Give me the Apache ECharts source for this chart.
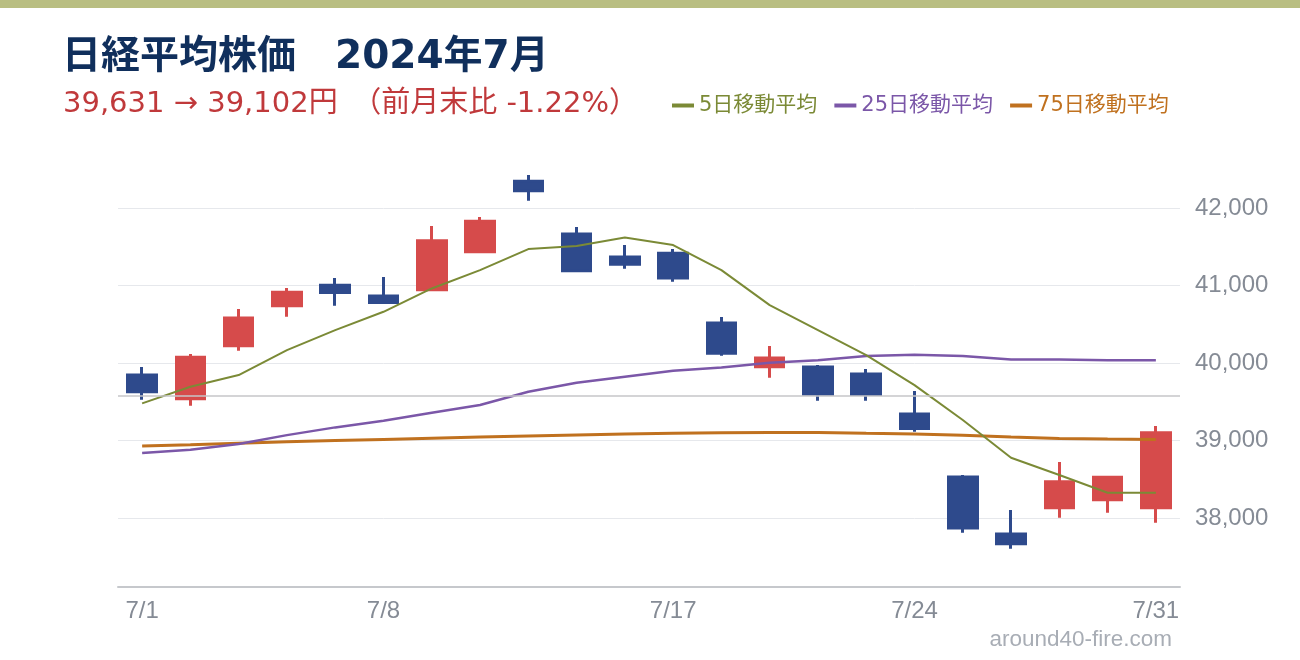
<!DOCTYPE html>
<html><head><meta charset="utf-8">
<script src="https://cdn.jsdelivr.net/npm/echarts@6/dist/echarts.min.js"></script>
<style>html,body{margin:0;padding:0;background:#fff}#c{width:1300px;height:660px}</style>
</head><body><div id="c"></div>
<script>
const dates = ['7/1','7/2','7/3','7/4','7/5','7/8','7/9','7/10','7/11','7/12','7/16','7/17','7/18','7/19','7/22','7/23','7/24','7/25','7/26','7/29','7/30','7/31'];
const opens  = [39845,39539,40223,40739,41006,40865,40946,41436,42348,41665,41368,41419,40516,39952,39948,39858,39342,38529,37794,38133,38236,38133];
const closes = [39631,40075,40581,40914,40912,40781,41580,41832,42224,41191,41275,41098,40126,40064,39599,39594,39155,37870,37667,38469,38526,39102];
const lows   = [39526,39449,40159,40597,40739,40770,40933,41423,42094,41178,41217,41049,40094,39810,39514,39514,39114,37810,37604,38004,38068,37939];
const highs  = [39948,40116,40697,40968,41097,41110,41768,41884,42427,41755,41523,41471,40594,40219,39974,39923,39639,38555,38103,38723,38529,39187];
const ma5  = [39480,39694,39845,40168,40426,40662,40963,41200,41471,41510,41622,41523,41200,40748,40426,40103,39716,39265,38778,38555,38327,38327];
const ma25 = [38839,38880,38955,39070,39170,39255,39360,39458,39630,39746,39823,39901,39944,40004,40035,40090,40107,40090,40047,40047,40035,40035];
const ma75 = [38929,38945,38965,38985,39000,39015,39030,39045,39060,39072,39085,39095,39100,39103,39104,39093,39084,39067,39045,39028,39019,39015];
const prevMonthEnd = 39583;
const yTicks = [38000,39000,40000,41000,42000];
const xLabelIdx = [0,5,11,16,21];

const C_UP = '#d64b4b', C_DN = '#2e4a8c';
const C5 = '#7b8a36', C25 = '#7b57a8', C75 = '#c0711f';
const AX = '#858b95';
const F_TXT = "'DejaVu Sans', 'Noto Sans CJK JP', sans-serif";
const F_AX = "'Liberation Sans', Arial, sans-serif";

const candle = dates.map((d,i)=>[opens[i], closes[i], lows[i], highs[i]]);
const chart = echarts.init(document.getElementById('c'), null, {renderer:'canvas'});
chart.setOption({
  animation:false,
  backgroundColor:'#fff',
  graphic:[{type:'rect', left:0, top:0, shape:{width:1300, height:8}, style:{fill:'#b9be82'}}],
  title:[
    {text:'日経平均株価　2024年7月', left:57, top:33,
     textStyle:{fontFamily:F_TXT, fontSize:39, fontWeight:'bold', color:'#102f5c'}},
    {text:'39,631 → 39,102円　（前月末比 -1.22%）', left:58, top:85,
     textStyle:{fontFamily:F_TXT, fontSize:29, fontWeight:'normal', color:'#c0393b'}},
    {text:'around40-fire.com', right:123, top:623,
     textStyle:{fontFamily:F_AX, fontSize:22.5, fontWeight:'normal', color:'#a8adb5'}}
  ],
  legend:{
    left:667, top:90, icon:'rect', itemWidth:22, itemHeight:4, itemGap:17,
    textStyle:{fontFamily:F_TXT, fontSize:21},
    data:[{name:'5日移動平均', textStyle:{color:C5}},{name:'25日移動平均', textStyle:{color:C25}},{name:'75日移動平均', textStyle:{color:C75}}]
  },
  grid:{left:118, right:120, top:150, bottom:73},
  xAxis:{
    type:'category', data:dates, boundaryGap:true,
    axisLine:{lineStyle:{color:'#c6c8cc', width:2}},
    axisTick:{show:false},
    axisLabel:{interval:(i)=>xLabelIdx.includes(i), color:AX, fontFamily:F_AX, fontSize:24, margin:12},
    splitLine:{show:false}
  },
  yAxis:{
    type:'value', position:'right', min:37110, max:42750, scale:true,
    axisLine:{show:false},
    axisTick:{show:false, customValues:yTicks},
    axisLabel:{customValues:yTicks, color:AX, fontFamily:F_AX, fontSize:24, margin:15,
      formatter:(v)=>v.toLocaleString('en-US')},
    splitLine:{show:true, lineStyle:{color:'#e6e8ec', width:1}}
  },
  series:[
    {type:'candlestick', name:'日経平均', data:candle, barWidth:29,
     itemStyle:{color:C_UP, color0:C_DN, borderColor:C_UP, borderColor0:C_DN, borderWidth:3},
     markLine:{silent:true, symbol:'none', label:{show:false},
       lineStyle:{color:'#c6c6c8', width:1.5, type:'solid'}, data:[{yAxis:prevMonthEnd}]}},
    {type:'line', name:'75日移動平均', data:ma75, symbol:'none', lineStyle:{color:C75, width:3}, itemStyle:{color:C75}},
    {type:'line', name:'25日移動平均', data:ma25, symbol:'none', lineStyle:{color:C25, width:2.5}, itemStyle:{color:C25}},
    {type:'line', name:'5日移動平均', data:ma5, symbol:'none', lineStyle:{color:C5, width:2}, itemStyle:{color:C5}}
  ]
});
</script></body></html>
